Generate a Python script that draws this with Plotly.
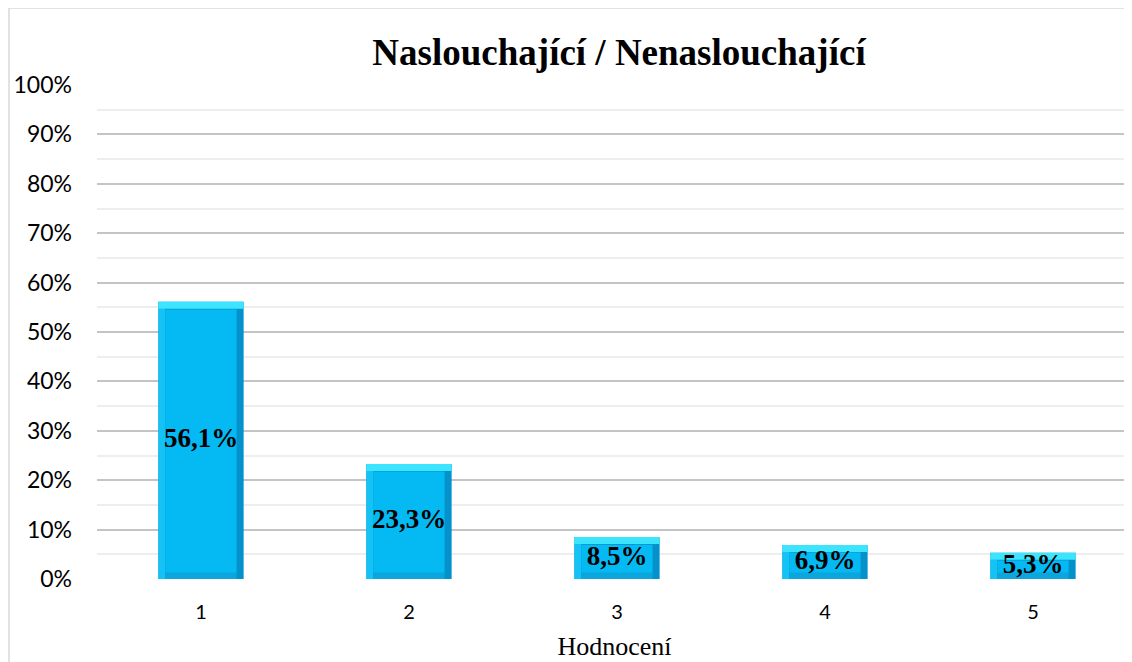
import plotly.graph_objects as go

categories = ["1", "2", "3", "4", "5"]
values = [56.1, 23.3, 8.5, 6.9, 5.3]
labels = ["56,1%", "23,3%", "8,5%", "6,9%", "5,3%"]
y_ticks = list(range(0, 101, 10))
y_ticktext = [f"{t}%" for t in y_ticks]

title_text = "Naslouchající / Nenaslouchající"
x_title = "Hodnocení"

# page body has an 8px margin, so the figure is a bit smaller than the window
W, H = 1124, 654
ML, MR, MT, MB = 89, 0, 77, 83
plot_w = W - ML - MR
plot_h = H - MT - MB

bar_w = 0.41
bx = 0.034              # horizontal bevel (x units)
by = 7 / plot_h * 100   # vertical bevel (y units)

xs = [1, 2, 3, 4, 5]
serif = "Liberation Serif, Times New Roman, serif"
sans = "Lato, Calibri, Carlito, sans-serif"

fig = go.Figure()

# dark base (right bevel)
fig.add_bar(x=xs, y=values, width=bar_w, marker=dict(color="#0592CA", line=dict(width=0)),
            hoverinfo="skip", showlegend=False)
# left bevel strip (lighter)
fig.add_bar(x=xs, y=[v - by for v in values], base=[0] * len(values),
            width=bx, offset=-bar_w / 2,
            marker=dict(color="#14C2F6", line=dict(width=0)), hoverinfo="skip", showlegend=False)
# bottom bevel strip
fig.add_bar(x=xs, y=[by * 0.9] * len(values), base=[0] * len(values),
            width=bar_w - 2 * bx, offset=-bar_w / 2 + bx,
            marker=dict(color="#0CA5DC", line=dict(width=0)), hoverinfo="skip", showlegend=False)
# top bevel strip (light)
fig.add_bar(x=xs, y=[by] * len(values), base=[v - by for v in values],
            width=bar_w, offset=-bar_w / 2,
            marker=dict(color="#3DE4FD", line=dict(width=0)), hoverinfo="skip", showlegend=False)
# inner face
fig.add_bar(x=xs, y=[v - 2 * by for v in values], base=[by * 0.9] * len(values),
            width=bar_w - 2 * bx, offset=-bar_w / 2 + bx,
            marker=dict(color="#05B9F3", line=dict(width=0)), hoverinfo="skip", showlegend=False)

# labels centred in bars
fig.add_trace(go.Scatter(x=xs, y=[v / 2 for v in values], mode="text",
                         text=[f"<b>{t}</b>" for t in labels],
                         textfont=dict(family=serif, size=27, color="black"),
                         textposition="middle center", hoverinfo="skip", showlegend=False))

fig.update_layout(
    width=W, height=H,
    margin=dict(l=ML, r=MR, t=MT, b=MB, autoexpand=False),
    barmode="overlay",
    paper_bgcolor="white", plot_bgcolor="white",
    title=dict(text=f"<b>{title_text}</b>", x=611 / W, xanchor="center",
               y=1 - 44 / H, yanchor="middle",
               font=dict(family=serif, size=37, color="black")),
    xaxis=dict(
        range=[0.5, 0.5 + plot_w / 208],
        tickmode="array", tickvals=xs, ticktext=categories,
        showgrid=False, zeroline=False, showline=False, ticks="",
        tickfont=dict(family=sans, size=20, color="#000000"),
        ticklabelstandoff=19,
        title=dict(text=x_title, font=dict(family=serif, size=26, color="black"), standoff=14),
    ),
    yaxis=dict(
        range=[0, 100],
        tickmode="array", tickvals=y_ticks, ticktext=y_ticktext,
        showgrid=True, gridcolor="#C4C4C4", gridwidth=1.5,
        zeroline=False, showline=False, ticks="",
        tickfont=dict(family=sans, size=23, color="#000000"),
        ticklabelstandoff=24,
        minor=dict(dtick=5, showgrid=True, gridcolor="#EEEEEE", gridwidth=1.5),
    ),
    shapes=[dict(type="rect", xref="paper", yref="paper",
                 x0=(1 - ML) / plot_w, x1=1.05,
                 y0=-0.3, y1=(H - MB) / plot_h,
                 line=dict(color="#D9D9D9", width=1.5), fillcolor="rgba(0,0,0,0)",
                 layer="below")],
)

fig.write_html("out.html")
